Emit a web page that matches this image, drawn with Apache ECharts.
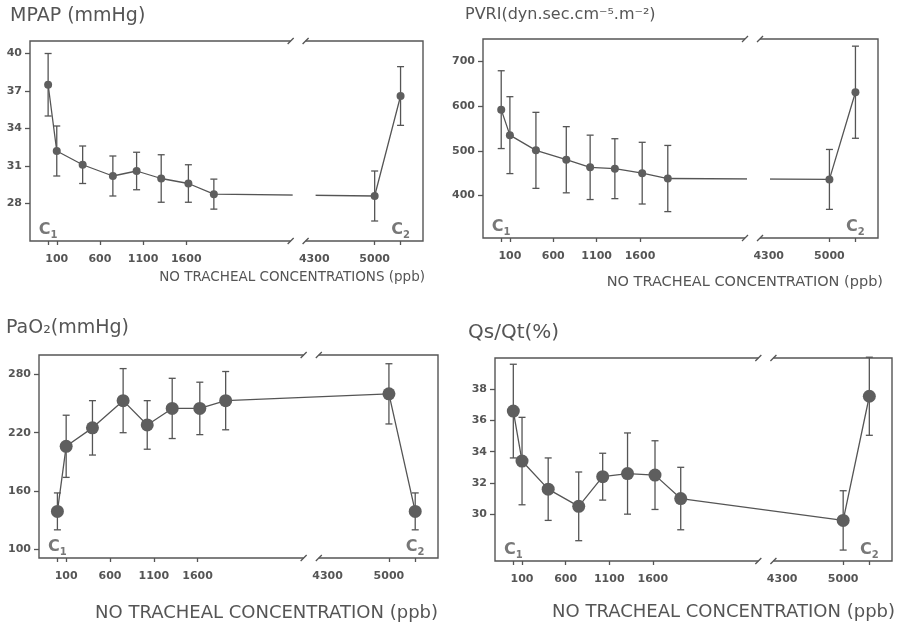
<!DOCTYPE html>
<html>
<head>
<meta charset="utf-8">
<script src="https://cdn.jsdelivr.net/npm/echarts@6.0.0/dist/echarts.min.js"></script>
<style>
    html, body { margin: 0; padding: 0; background: #fff; }
    #chart { width: 900px; height: 627px; }
</style>
</head>
<body>
<div id="chart"></div>
<script>
// x positions (ppb). first = C1, last = C2 (controls)
const xPos = [0, 100, 400, 750, 1025, 1310, 1625, 1920, 5000, 5300];
const xTicks = [0, 100, 600, 1100, 1600, 5000, 5300];
const xLabels = [100, 600, 1100, 1600, 4300, 5000];
const breakStart = 2810, breakEnd = 4200;

const mpapMean = [37.5, 32.2, 31.1, 30.2, 30.6, 30.0, 29.6, 28.75, 28.6, 36.6];
const mpapSd   = [2.5, 2.0, 1.5, 1.6, 1.5, 1.9, 1.5, 1.2, 2.0, 2.35];
const mpapTicks = [28, 31, 34, 37, 40];

const pvriMean = [592, 535, 501, 480, 463, 460, 450, 438, 436, 631];
const pvriSd   = [87, 86, 85, 74, 72, 67, 69, 74, 67, 103];
const pvriTicks = [400, 500, 600, 700];

const pao2Mean = [139, 206, 225, 253, 228, 245, 245, 253, 260, 139];
const pao2Sd   = [19, 32, 28, 33, 25, 31, 27, 30, 31, 19];
const pao2Ticks = [100, 160, 220, 280];

const qsqtMean = [36.6, 33.4, 31.6, 30.5, 32.4, 32.6, 32.5, 31.0, 29.6, 37.55];
const qsqtSd   = [3.0, 2.8, 2.0, 2.2, 1.5, 2.6, 2.2, 2.0, 1.9, 2.5];
const qsqtTicks = [30, 32, 34, 36, 38];

const ink = '#555';
const dot = '#5e5e5e';
const font = 'DejaVu Sans';

const panels = [
    {mean: mpapMean, sd: mpapSd, ticks: mpapTicks, yMin: 25, yMax: 41, box: [30, 41, 393, 200], sym: 8, lineGap: true,
     title: 'MPAP (mmHg)', tx: 10, ty: 16, tSize: 19,
     name: 'NO TRACHEAL CONCENTRATIONS (ppb)', nx: 425, ny: 277, nSize: 13.5},
    {mean: pvriMean, sd: pvriSd, ticks: pvriTicks, yMin: 305, yMax: 750, box: [483, 39, 395, 199], sym: 8, lineGap: true,
     title: 'PVRI(dyn.sec.cm\u207B\u2075.m\u207B\u00B2)', tx: 465, ty: 15, tSize: 16,
     name: 'NO TRACHEAL CONCENTRATION (ppb)', nx: 883, ny: 282, nSize: 14.5},
    {mean: pao2Mean, sd: pao2Sd, ticks: pao2Ticks, yMin: 91, yMax: 300, box: [39, 355, 399, 203], sym: 13, lineGap: false,
     title: 'PaO\u2082(mmHg)', tx: 6, ty: 328, tSize: 19,
     name: 'NO TRACHEAL CONCENTRATION (ppb)', nx: 438, ny: 613, nSize: 18},
    {mean: qsqtMean, sd: qsqtSd, ticks: qsqtTicks, yMin: 27, yMax: 40, box: [495, 358, 397, 203], sym: 13, lineGap: false,
     title: 'Qs/Qt(%)', tx: 468, ty: 333, tSize: 20,
     name: 'NO TRACHEAL CONCENTRATION (ppb)', nx: 895, ny: 612, nSize: 18}
];

const chart = echarts.init(document.getElementById('chart'), null, {renderer: 'canvas'});

const labelStyle = {color: ink, fontFamily: font, fontSize: 11, fontWeight: 'bold',
                    formatter: function (v) { return String(v); }};
const series = [];
panels.forEach(function (p, i) {
    series.push({
        type: 'custom', xAxisIndex: i, yAxisIndex: i, z: 3,
        data: xPos.map(function (x, k) { return [x, p.mean[k] - p.sd[k], p.mean[k] + p.sd[k]]; }),
        renderItem: function (params, api) {
            const a = api.coord([api.value(0), api.value(2)]);
            const b = api.coord([api.value(0), api.value(1)]);
            const st = {stroke: ink, lineWidth: 1.3};
            return {type: 'group', children: [
                {type: 'line', shape: {x1: a[0], y1: a[1], x2: b[0], y2: b[1]}, style: st},
                {type: 'line', shape: {x1: a[0] - 3.5, y1: a[1], x2: a[0] + 3.5, y2: a[1]}, style: st},
                {type: 'line', shape: {x1: b[0] - 3.5, y1: b[1], x2: b[0] + 3.5, y2: b[1]}, style: st}
            ]};
        }
    });
    series.push({
        type: 'line', xAxisIndex: i, yAxisIndex: i, z: 4,
        data: xPos.map(function (x, k) { return [x, p.mean[k]]; }),
        symbol: 'circle', symbolSize: p.sym, showSymbol: true,
        lineStyle: {color: ink, width: 1.3},
        itemStyle: {color: dot, borderWidth: 0}
    });
    // C1 / C2 markers along the bottom
    series.push({
        type: 'scatter', xAxisIndex: i, yAxisIndex: i, z: 5, symbolSize: 0,
        data: [[xPos[0], p.yMin, '1'], [xPos[xPos.length - 1], p.yMin, '2']],
        label: {
            show: true, position: 'top', distance: 1,
            formatter: function (d) { return '{c|C}{s|' + d.value[2] + '}'; },
            rich: {
                c: {fontFamily: font, fontSize: 16, fontWeight: 'bold', color: ink, lineHeight: 20},
                s: {fontFamily: font, fontSize: 10, fontWeight: 'bold', color: ink, lineHeight: 10, verticalAlign: 'bottom'}
            }
        }
    });
});

chart.setOption({
    animation: false,
    backgroundColor: '#fff',
    grid: panels.map(function (p) {
        return {left: p.box[0], top: p.box[1], width: p.box[2], height: p.box[3],
                show: true, borderColor: ink, borderWidth: 1.4, backgroundColor: 'transparent'};
    }),
    xAxis: panels.map(function (p, i) {
        return {
            gridIndex: i, type: 'value', min: -210, max: 5560,
            breaks: [{start: breakStart, end: breakEnd, gap: '3.8%'}],
            breakArea: {show: false},
            axisLine: {show: false, onZero: false},
            axisTick: {show: true, length: 4, customValues: xTicks, lineStyle: {color: ink, width: 1.3}},
            axisLabel: Object.assign({customValues: xLabels, margin: 13}, labelStyle),
            splitLine: {show: false}
        };
    }),
    yAxis: panels.map(function (p, i) {
        return {
            gridIndex: i, type: 'value', min: p.yMin, max: p.yMax,
            axisLine: {show: false, onZero: false},
            axisTick: {show: true, length: 5, customValues: p.ticks, lineStyle: {color: ink, width: 1.3}},
            axisLabel: Object.assign({customValues: p.ticks, margin: 8}, labelStyle),
            splitLine: {show: false}
        };
    }),
    series: series
});

// broken-axis marks and texts, placed from the axes
const g = [];
panels.forEach(function (p, i) {
    const xa = chart.convertToPixel({xAxisIndex: i}, breakStart);
    const xb = chart.convertToPixel({xAxisIndex: i}, breakEnd);
    const top = p.box[1], bot = p.box[1] + p.box[3];
    [top, bot].forEach(function (y) {
        g.push({type: 'rect', z: 1, shape: {x: xa, y: y - 3, width: xb - xa, height: 6}, style: {fill: '#fff'}});
    });
    if (p.lineGap) {
        g.push({type: 'rect', z: 10, shape: {x: xa + 2, y: top + 3, width: xb - xa + 8, height: bot - top - 6}, style: {fill: '#fff'}});
    }
    [xa, xb].forEach(function (x) {
        [top, bot].forEach(function (y) {
            g.push({type: 'line', z: 11, shape: {x1: x - 3, y1: y + 3, x2: x + 3, y2: y - 3}, style: {stroke: ink, lineWidth: 1.3}});
        });
    });
    g.push({type: 'text', z: 12, x: p.tx, y: p.ty,
            style: {text: p.title, font: p.tSize + 'px "' + font + '"', fill: ink, textAlign: 'left', textVerticalAlign: 'middle'}});
    g.push({type: 'text', z: 12, x: p.nx, y: p.ny,
            style: {text: p.name, font: p.nSize + 'px "' + font + '"', fill: ink, textAlign: 'right', textVerticalAlign: 'middle'}});
});
chart.setOption({graphic: g});
</script>
</body>
</html>
